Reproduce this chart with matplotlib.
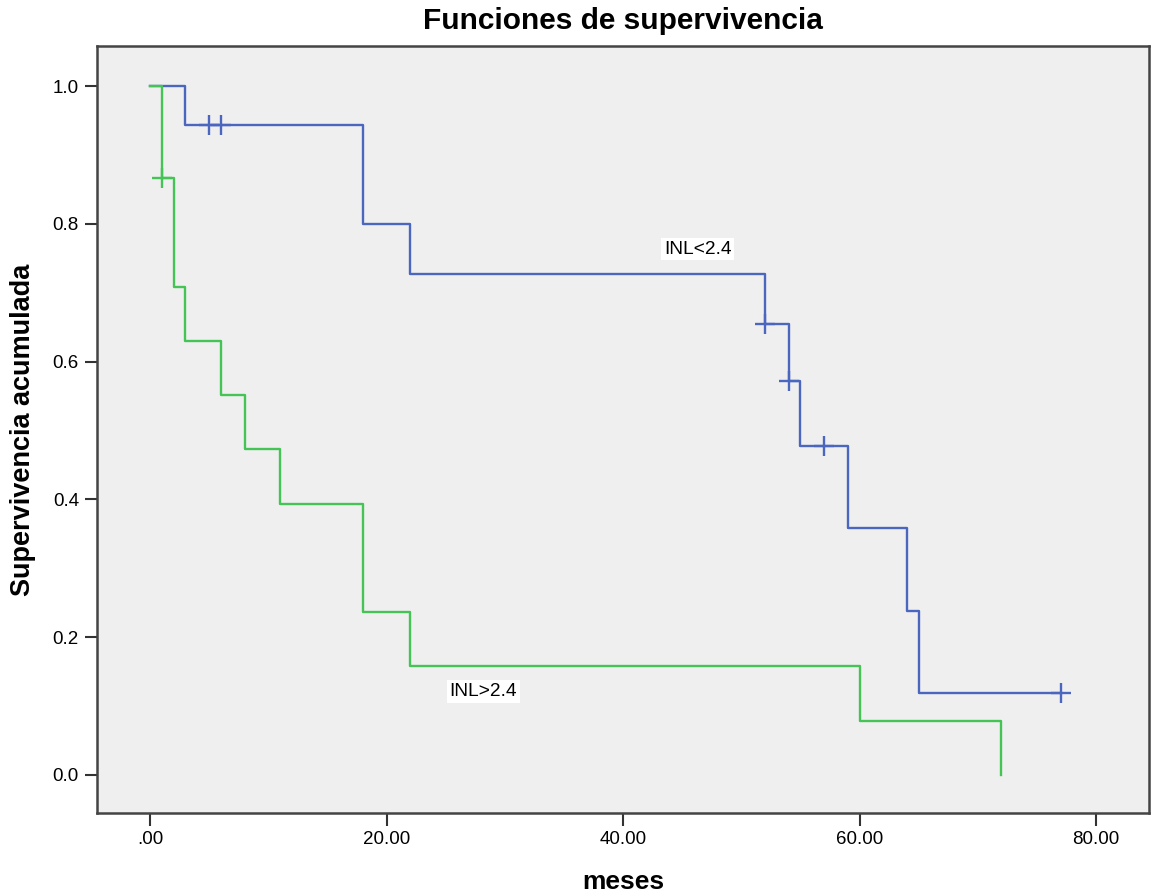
import matplotlib.pyplot as plt
import numpy as np

plt.rcParams['font.family'] = ['Liberation Sans', 'DejaVu Sans']

# Kaplan-Meier steps
low_t = [0, 3, 18, 22, 52, 54, 55, 59, 64, 65, 77]
low_s = [1.0, 0.944, 0.800, 0.727, 0.654, 0.572, 0.477, 0.358, 0.238, 0.119, 0.119]
low_cens_t = [5, 6, 52, 54, 57, 77]
low_cens_s = [0.944, 0.944, 0.654, 0.572, 0.477, 0.119]

high_t = [0, 1, 2, 3, 6, 8, 11, 18, 22, 60, 72]
high_s = [1.0, 0.867, 0.709, 0.630, 0.551, 0.473, 0.394, 0.236, 0.158, 0.079, 0.0]
high_cens_t = [1]
high_cens_s = [0.867]

blue = '#4A66BE'
green = '#44C455'

fig = plt.figure(figsize=(11.51, 8.96), dpi=100)
ax = fig.add_axes([0.0843, 0.0926, 0.914, 0.856])
ax.set_facecolor('#EFEFEF')

ax.step(low_t, low_s, where='post', color=blue, lw=1.7)
ax.plot(low_cens_t, low_cens_s, ls='none', marker='+', ms=14, mew=1.7, color=blue)
ax.step(high_t, high_s, where='post', color=green, lw=1.7)
ax.plot(high_cens_t, high_cens_s, ls='none', marker='+', ms=14, mew=1.7, color=green)

ax.text(46.3, 0.763, 'INL<2.4', fontsize=13.8, ha='center', va='center',
        bbox=dict(facecolor='white', edgecolor='none', pad=2))
ax.text(28.2, 0.121, 'INL>2.4', fontsize=13.8, ha='center', va='center',
        bbox=dict(facecolor='white', edgecolor='none', pad=2))

ax.set_xlim(-4.48, 84.48)
ax.set_ylim(-0.0552, 1.058)
ax.set_xticks([0, 20, 40, 60, 80])
ax.set_xticklabels(['.00', '20.00', '40.00', '60.00', '80.00'])
ax.set_yticks([0, 0.2, 0.4, 0.6, 0.8, 1.0])
ax.set_yticklabels(['0.0', '0.2', '0.4', '0.6', '0.8', '1.0'])
ax.tick_params(labelsize=13.5, length=9, width=1.5, color='#333333', pad=4)
for s in ax.spines.values():
    s.set_linewidth(1.8)
    s.set_color('#444444')

ax.set_xlabel('meses', fontsize=19, fontweight='bold', labelpad=16)
ax.set_ylabel('Supervivencia acumulada', fontsize=19.5, fontweight='bold', labelpad=12)
ax.set_title('Funciones de supervivencia', fontsize=21.5, fontweight='bold', pad=12)

plt.savefig('out.png', dpi=100)
